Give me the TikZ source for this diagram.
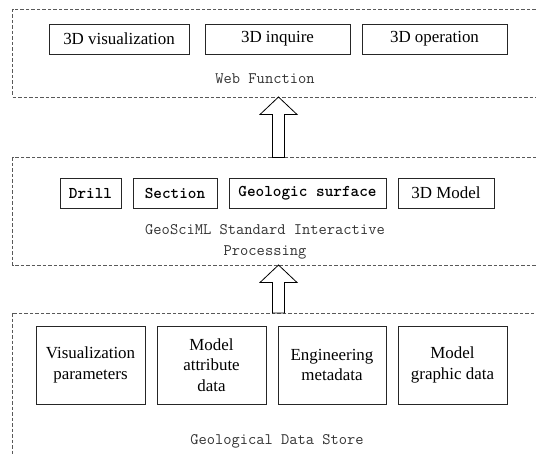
\documentclass[tikz,border=0pt]{standalone}
\usepackage{fontspec}
\setmainfont{Liberation Serif}
\usetikzlibrary{calc}
\begin{document}
\begin{tikzpicture}[x=1bp,y=-1bp,
  frame/.style={draw=black!65, dash pattern=on 3.5bp off 2bp, line width=0.7bp},
  box/.style={draw=black!85, line width=0.8bp, inner sep=0pt, font=\fontsize{17}{20.5}\selectfont, align=center},
  monobox/.style={box, font=\ttfamily\bfseries\fontsize{16.5}{17}\selectfont},
  lbl/.style={font=\ttfamily\fontsize{16.1}{21}\selectfont, text=black!80, align=center},
  blk/.style={draw=black, line width=0.8bp, fill=white, line join=miter}]
\useasboundingbox (0,0) rectangle (536,455);
\clip (0,0) rectangle (536,455);
% frames
\draw[frame] (12.5,9) rectangle (560,97);
\draw[frame] (12.5,157.5) rectangle (560,265);
\draw[frame] (12.5,313) rectangle (560,480);
% top layer
\node[box, minimum width=140bp, minimum height=30bp] (vis) at (119,39) {3D visualization};
\node[box, minimum width=145bp, minimum height=30bp] (inq) at (277.5,39) {3D inquire};
\node[box, minimum width=145bp, minimum height=30bp] (op) at (434.5,39) {3D operation};
\node[lbl] (web) at (265,79) {Web Function};
% middle layer
\node[monobox, minimum width=61bp, minimum height=30bp] (drill) at (90.5,193) {Drill};
\node[monobox, minimum width=84bp, minimum height=30bp] (sec) at (175,193) {Section};
\node[monobox, minimum width=157bp, minimum height=30bp] (geo) at (307.5,193) {Geologic surface};
\node[box, minimum width=96bp, minimum height=30bp] (mod) at (446,193) {3D Model};
\node[lbl] (geosci) at (265,241.5) {GeoSciML Standard Interactive\\Processing};
% bottom layer
\node[box, minimum width=109bp, minimum height=78bp] (vp) at (90.5,365) {Visualization\\parameters};
\node[box, minimum width=109bp, minimum height=78bp] (mad) at (211.5,365) {Model\\attribute\\data};
\node[box, minimum width=108bp, minimum height=78bp] (em) at (332,365) {Engineering\\metadata};
\node[box, minimum width=109bp, minimum height=78bp] (mgd) at (452.5,365) {Model\\graphic data};
\node[lbl] (store) at (277,441) {Geological Data Store};
% block arrows
\coordinate (t1) at (278.5,97);
\coordinate (b1) at (278.5,157.5);
\coordinate (t2) at (278.5,265);
\coordinate (b2) at (278.5,313);
\draw[blk] (t1) -- ($(t1)+(18.5,17.5)$) -- ($(t1)+(6,17.5)$) -- ($(b1)+(6,0)$) -- ($(b1)+(-6,0)$) -- ($(t1)+(-6,17.5)$) -- ($(t1)+(-18.5,17.5)$) -- cycle;
\draw[blk] (t2) -- ($(t2)+(18.5,17.5)$) -- ($(t2)+(6,17.5)$) -- ($(b2)+(6,0)$) -- ($(b2)+(-6,0)$) -- ($(t2)+(-6,17.5)$) -- ($(t2)+(-18.5,17.5)$) -- cycle;
\end{tikzpicture}
\end{document}
